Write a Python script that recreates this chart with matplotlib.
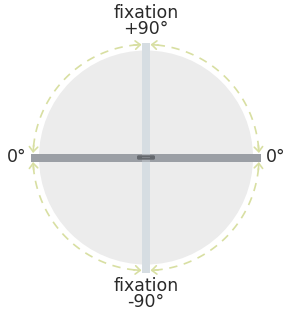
import numpy as np
import matplotlib.pyplot as plt
from matplotlib.patches import Circle, Rectangle, FancyBboxPatch

# ---- data ----
bar_angles = [90, 0]                      # degrees: vertical (fixation axis), horizontal
axis_labels = ["fixation\n+90°", "0°", "fixation\n-90°", "0°"]
label_angles = [90, 0, -90, 180]
quadrants = [(0, 90), (90, 180), (180, 270), (270, 360)]

W, H = 287, 315
fig = plt.figure(figsize=(W / 100, H / 100), dpi=100)
ax = fig.add_axes([0, 0, 1, 1])
cx, cy = 146, 157.5
ax.set_xlim(-cx, W - cx)
ax.set_ylim(-(H - cy), cy)
ax.set_aspect('equal')
ax.axis('off')

disk_r = 107
arc_r = 113
bar_half = 115
bar_w = 8

disk_col = '#ececec'
vbar_col = '#d6dde2'
hbar_col = '#9b9fa5'
arc_col = '#d8dfa2'
txt_col = '#2a2a2a'

ax.add_patch(Circle((0, 0), disk_r, facecolor=disk_col, edgecolor='none', zorder=1))

# bars
def bar_rect(angle, **kw):
    if angle == 90:
        return Rectangle((-bar_w / 2, -bar_half), bar_w, 2 * bar_half, **kw)
    return Rectangle((-bar_half, -bar_w / 2), 2 * bar_half, bar_w, **kw)

ax.add_patch(bar_rect(90, facecolor=vbar_col, edgecolor='none', zorder=2))
ax.add_patch(bar_rect(0, facecolor=hbar_col, edgecolor='none', zorder=3))
ax.add_patch(bar_rect(90, facecolor=vbar_col, edgecolor='none', alpha=0.35, zorder=4))

# center marker
ax.add_patch(FancyBboxPatch((-8, -1.2), 16, 2.4, boxstyle='round,pad=1.0,rounding_size=1.5',
                            facecolor='#64686d', edgecolor='none', zorder=5))
ax.add_patch(Rectangle((-4, -0.4), 8, 0.8, facecolor='#80848a', edgecolor='none', zorder=6))

# dashed quadrant arcs with arrowheads at both ends
gap = np.degrees(np.arcsin((bar_w / 2 + 0.5) / arc_r))
for a0, a1 in quadrants:
    t0, t1 = a0 + gap, a1 - gap
    th = np.radians(np.linspace(t0 + 2, t1 - 2, 100))
    ax.plot(arc_r * np.cos(th), arc_r * np.sin(th), color=arc_col, lw=1.2,
            ls=(0, (5, 4)), zorder=2, solid_capstyle='butt')
    for tip, back in ((t0, t0 + 4), (t1, t1 - 4)):
        tr, br = np.radians(tip), np.radians(back)
        ax.annotate('', xy=(arc_r * np.cos(tr), arc_r * np.sin(tr)),
                    xytext=(arc_r * np.cos(br), arc_r * np.sin(br)),
                    arrowprops=dict(arrowstyle='->,head_length=0.35,head_width=0.3',
                                    color=arc_col, lw=1.2, shrinkA=0, shrinkB=0),
                    zorder=3)

# labels
font = 'DejaVu Sans'
fs = 12.5
for lab, ang in zip(axis_labels, label_angles):
    if ang == 90:
        ax.text(0, 153.5, lab, ha='center', va='top', fontsize=fs, family=font,
                color=txt_col, linespacing=0.85)
    elif ang == -90:
        ax.text(0, -119.5, lab, ha='center', va='top', fontsize=fs, family=font,
                color=txt_col, linespacing=0.85)
    elif ang == 0:
        ax.text(120, 0, lab, ha='left', va='center', fontsize=fs, family=font, color=txt_col)
    else:
        ax.text(-119, 0, lab, ha='right', va='center', fontsize=fs, family=font, color=txt_col)

fig.savefig('out.png', dpi=100)
